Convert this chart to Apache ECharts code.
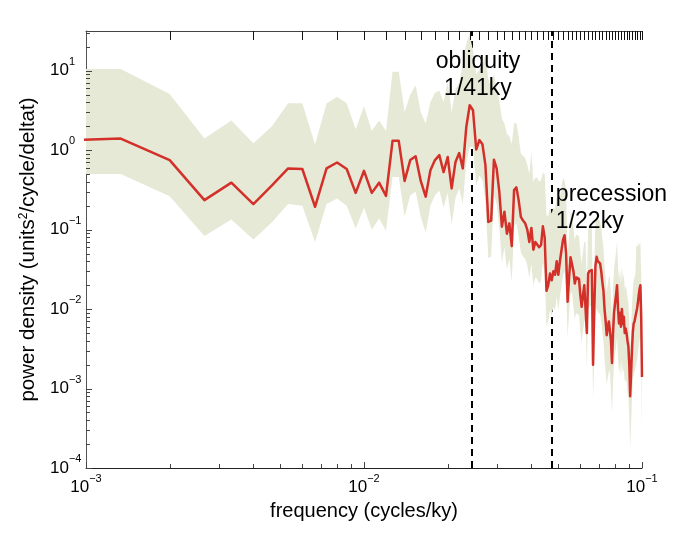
<!DOCTYPE html>
<html><head><meta charset="utf-8">
<script src="https://cdn.jsdelivr.net/npm/echarts@6/dist/echarts.min.js"></script>
<style>html,body{margin:0;padding:0;background:#fff}#c{width:697px;height:536px}</style>
</head><body><div id="c"></div>
<script>
// power spectral density (red line), k = 1..150, frequency = k * df
const psd = [
 1.3, 1.4, 0.75, 0.235, 0.39, 0.21, 0.36, 0.59, 0.58, 0.194,
 0.59, 0.70, 0.58, 0.29, 0.55, 0.29, 0.39, 0.266, 1.31, 1.31,
 0.41, 0.75, 0.84, 0.41, 0.26, 0.56, 0.75, 0.865, 0.53, 0.82,
 0.33, 0.71, 0.92, 0.59, 1.96, 3.68, 3.18, 1.02, 1.34, 1.19,
 0.65, 0.125, 0.13, 0.76, 0.59, 0.30, 0.109, 0.168, 0.089, 0.12,
 0.062, 0.314, 0.34, 0.235, 0.145, 0.13, 0.12, 0.10, 0.07, 0.105,
 0.056, 0.07, 0.067, 0.06, 0.064, 0.11, 0.08, 0.017, 0.02, 0.028,
 0.023, 0.03, 0.027, 0.04, 0.027, 0.04, 0.055, 0.075, 0.085, 0.05,
 0.0124, 0.025, 0.045, 0.045, 0.03, 0.021, 0.025, 0.024, 0.024, 0.015,
 0.0107, 0.015, 0.02, 0.02, 0.005, 0.028, 0.03, 0.031, 0.031, 0.002,
 0.01, 0.035, 0.0455, 0.04, 0.038, 0.0376, 0.03, 0.022, 0.017, 0.01,
 0.007, 0.0047, 0.006, 0.007, 0.0073, 0.004, 0.0021, 0.005, 0.009, 0.0118,
 0.015, 0.02, 0.01, 0.0066, 0.009, 0.006, 0.01, 0.0065, 0.008, 0.005,
 0.0057, 0.005, 0.004, 0.0034, 0.002, 0.0008, 0.0015, 0.003, 0.005, 0.0066,
 0.007, 0.008, 0.009, 0.0102, 0.012, 0.015, 0.018, 0.02, 0.008, 0.0014
];
// lower confidence bound
const lo = [
 0.5, 0.5, 0.264, 0.083, 0.134, 0.075, 0.124, 0.21, 0.20, 0.070,
 0.21, 0.247, 0.20, 0.103, 0.19, 0.10, 0.138, 0.097, 0.46, 0.46,
 0.145, 0.27, 0.30, 0.145, 0.092, 0.2, 0.27, 0.31, 0.19, 0.29,
 0.117, 0.25, 0.33, 0.21, 0.70, 1.1, 1.1, 0.36, 0.48, 0.42,
 0.23, 0.044, 0.046, 0.27, 0.21, 0.107, 0.039, 0.06, 0.032, 0.043,
 0.022, 0.11, 0.12, 0.083, 0.051, 0.046, 0.043, 0.036, 0.025, 0.037,
 0.020, 0.025, 0.024, 0.021, 0.023, 0.039, 0.028, 0.006, 0.0071, 0.0099,
 0.0082, 0.0107, 0.0096, 0.0142, 0.0096, 0.0142, 0.0195, 0.0266, 0.030, 0.0178,
 0.0044, 0.0089, 0.016, 0.016, 0.0107, 0.0075, 0.0089, 0.0085, 0.0085, 0.0053,
 0.0038, 0.0053, 0.0071, 0.0071, 0.0018, 0.0099, 0.0107, 0.011, 0.011, 0.0007,
 0.0023, 0.008, 0.0104, 0.0092, 0.0088, 0.0086, 0.007, 0.0051, 0.0039, 0.0023,
 0.0016, 0.0011, 0.0014, 0.0016, 0.0017, 0.0009, 0.0005, 0.0012, 0.0021, 0.0027,
 0.0034, 0.0046, 0.0023, 0.0015, 0.0021, 0.0014, 0.0023, 0.0015, 0.0018, 0.0012,
 0.0013, 0.0012, 0.0009, 0.0008, 0.00045, 0.00018, 0.00034, 0.0007, 0.0012, 0.0015,
 0.0016, 0.0018, 0.0021, 0.0023, 0.0028, 0.0034, 0.0042, 0.0046, 0.0018, 0.0003
];
// upper confidence bound
const hi = [
 10.5, 10.5, 5.1, 1.4, 2.37, 1.22, 2.0, 3.9, 3.9, 1.18,
 3.87, 4.71, 3.9, 1.84, 3.57, 1.74, 2.37, 1.74, 9.7, 9.7,
 3.03, 5.0, 6.57, 3.0, 2.17, 4.0, 5.27, 5.6, 4.0, 7.3,
 3.0, 5.9, 7.0, 12, 22, 29, 18, 9, 10.2, 12,
 15.9, 8, 6, 9.2, 6, 4.2, 2.5, 2.17, 1.6, 1.5,
 1.2, 2.17, 2.2, 1.5, 0.9, 0.85, 0.8, 0.65, 0.5, 0.95,
 0.4, 0.45, 0.45, 0.4, 0.42, 0.52, 0.5, 0.15, 0.15, 0.19,
 0.16, 0.19, 0.18, 0.26, 0.18, 0.26, 0.35, 0.45, 0.41, 0.32,
 0.043, 0.088, 0.16, 0.16, 0.105, 0.074, 0.088, 0.084, 0.084, 0.053,
 0.037, 0.053, 0.07, 0.07, 0.018, 0.098, 0.105, 0.11, 0.11, 0.007,
 0.035, 0.12, 0.16, 0.14, 0.13, 0.13, 0.105, 0.077, 0.06, 0.035,
 0.025, 0.016, 0.021, 0.025, 0.026, 0.014, 0.0074, 0.0175, 0.032, 0.041,
 0.053, 0.07, 0.035, 0.023, 0.032, 0.021, 0.035, 0.023, 0.028, 0.0175,
 0.02, 0.0175, 0.014, 0.012, 0.007, 0.0028, 0.0053, 0.0105, 0.0175, 0.023,
 0.025, 0.028, 0.06, 0.065, 0.06, 0.07, 0.063, 0.07, 0.028, 0.005
];
const df = 1 / 1500;                       // frequency resolution (cycles/ky)
const freq = psd.map((_, i) => (i + 1) * df);

const xMin = 1e-3, xMax = 1e-1;
const yMin = 1e-4, yMax = Math.pow(10, 1.5);
const xTickValues = [1e-3, 1e-2, 1e-1];
const xTickExponents = ['\u22123', '\u22122', '\u22121'];
const yTickValues = [1e-4, 1e-3, 1e-2, 1e-1, 1e0, 1e1];
const yTickExponents = ['\u22124', '\u22123', '\u22122', '\u22121', '0', '1'];
const minorMantissas = [2, 3, 4, 5, 6, 7, 8, 9];
const xDecades = [1e-3, 1e-2];
const yDecades = [1e-4, 1e-3, 1e-2, 1e-1, 1e0, 1e1];
const topTickStep = 0.002, topTickCount = 50;
const vlines = [1 / 41, 0.0475];
const annotations = [
  { text: 'obliquity\n1/41ky', f: 0.0257, v: 8.8, align: 'center' },
  { text: 'precession\n1/22ky', f: 0.049, v: 0.184, align: 'left' }
];

const FONT = '"Liberation Sans", Arial, Helvetica, sans-serif';
const RED = '#d3302a';
const BAND = '#e6e9d6';

// tick marks: [x, y, kind]
const tickData = [];
xTickValues.forEach(v => tickData.push([v, yMin, 0]));
xDecades.forEach(d => minorMantissas.forEach(m => tickData.push([m * d, yMin, 1])));
yTickValues.forEach(v => tickData.push([xMin, v, 2]));
yDecades.forEach(d => minorMantissas.forEach(m => { if (m * d < yMax) tickData.push([xMin, m * d, 3]); }));
for (let m = 1; m <= topTickCount; m++) tickData.push([m * topTickStep, yMax, 4]);

function findIdx(arr, v) {
  return arr.findIndex(t => Math.abs(Math.log10(t) - Math.log10(v)) < 1e-6);
}
const labelRich = {
  b: { fontSize: 17, fontFamily: FONT, color: '#000', lineHeight: 29 },
  e: { fontSize: 11, fontFamily: FONT, color: '#000', lineHeight: 11, verticalAlign: 'top' }
};

const chart = echarts.init(document.getElementById('c'), null, { renderer: 'canvas' });
chart.setOption({
  animation: false,
  backgroundColor: '#fff',
  grid: { left: 86, right: 55, top: 31, bottom: 68, containLabel: false },
  xAxis: [{
    type: 'log', logBase: 10, min: xMin, max: xMax, position: 'bottom',
    axisLine: { show: true, onZero: false, lineStyle: { color: '#222', width: 1 } },
    axisTick: { show: false }, splitLine: { show: false }, minorTick: { show: false },
    axisLabel: {
      margin: 5, showMinLabel: true, showMaxLabel: true,
      formatter: v => { const i = findIdx(xTickValues, v); return i < 0 ? '' : '{b|10}{e|' + xTickExponents[i] + '}'; },
      rich: labelRich
    },
    name: 'frequency (cycles/ky)', nameLocation: 'middle', nameGap: 33,
    nameTextStyle: { fontSize: 20, fontFamily: FONT, color: '#000' }
  }, {
    type: 'log', logBase: 10, min: xMin, max: xMax, position: 'top',
    axisLine: { show: true, onZero: false, lineStyle: { color: '#444', width: 1 } },
    axisTick: { show: false }, axisLabel: { show: false }, splitLine: { show: false }
  }],
  yAxis: {
    type: 'log', logBase: 10, min: yMin, max: yMax,
    axisLine: { show: true, onZero: false, lineStyle: { color: '#555', width: 1 } },
    axisTick: { show: false }, splitLine: { show: false }, minorTick: { show: false },
    axisLabel: {
      margin: 36, align: 'left', showMinLabel: true, showMaxLabel: true,
      formatter: v => { const i = findIdx(yTickValues, v); return i < 0 ? '' : '{b|10}{e|' + yTickExponents[i] + '}'; },
      rich: labelRich
    },
    name: 'power density (units{s|2}/cycle/deltat)', nameLocation: 'middle', nameGap: 38,
    nameTextStyle: { fontSize: 20.5, fontFamily: FONT, color: '#000',
      rich: { s: { fontSize: 12, fontFamily: FONT, color: '#000', verticalAlign: 'top', lineHeight: 12 } } }
  },
  series: [
    { // vertical dashed lines (under the band)
      type: 'custom', z: 1, silent: true, xAxisIndex: 0,
      data: vlines.map(v => [v, yMin]),
      encode: { x: 0, y: 1 },
      renderItem: (params, api) => {
        const v = api.value(0);
        const p1 = api.coord([v, yMin]), p2 = api.coord([v, yMax]);
        const x = Math.round(p1[0]);
        return { type: 'line', shape: { x1: x, y1: p1[1], x2: x, y2: p2[1] },
          style: { stroke: '#000', lineWidth: 2, lineDash: [7, 5] } };
      }
    },
    { // confidence band
      type: 'custom', z: 2, silent: true, xAxisIndex: 0,
      data: [[freq[10], psd[10]]],
      encode: { x: 0, y: 1 },
      renderItem: (params, api) => {
        const pts = [];
        for (let i = 0; i < freq.length; i++) pts.push(api.coord([freq[i], hi[i]]));
        for (let i = freq.length - 1; i >= 0; i--) pts.push(api.coord([freq[i], lo[i]]));
        const cs = params.coordSys;
        return { type: 'polygon', shape: { points: pts }, style: { fill: BAND },
          clipPath: { type: 'rect', shape: { x: cs.x, y: cs.y, width: cs.width, height: cs.height } } };
      }
    },
    { // spectrum
      type: 'line', z: 3, xAxisIndex: 0, silent: true,
      data: freq.map((f, i) => [f, psd[i]]),
      symbol: 'none', showSymbol: false, clip: true,
      lineStyle: { color: RED, width: 2.5, join: 'round' }
    },
    { // tick marks
      type: 'custom', z: 4, silent: true, xAxisIndex: 0,
      data: tickData, encode: { x: 0, y: 1 },
      renderItem: (params, api) => {
        const p = api.coord([api.value(0), api.value(1)]);
        const kind = api.value(2);
        let x1 = p[0], y1 = p[1], x2 = p[0], y2 = p[1];
        if (kind === 0 || kind === 1 || kind === 4) { x1 = x2 = Math.round(p[0]) + 0.5; }
        else { y1 = y2 = Math.round(p[1]) + 0.5; }
        if (kind === 0) y2 -= 6; else if (kind === 1) y2 -= 4;
        else if (kind === 2) x2 += 6; else if (kind === 3) x2 += 4;
        else y2 += 9;
        return { type: 'line', shape: { x1, y1, x2, y2 },
          style: { stroke: kind === 4 ? '#111' : '#444', lineWidth: 1 } };
      }
    },
    { // annotations (text anchored at data coordinates)
      type: 'custom', z: 5, silent: true, xAxisIndex: 0,
      data: annotations.map((a, i) => [a.f, a.v, i]), encode: { x: 0, y: 1 },
      renderItem: (params, api) => {
        const a = annotations[api.value(2)];
        const p = api.coord([api.value(0), api.value(1)]);
        return { type: 'text', x: p[0], y: p[1],
          style: { text: a.text, fill: '#000', fontSize: 23, fontFamily: FONT, lineHeight: 27,
            align: a.align, verticalAlign: 'middle', opacity: 1 } };
      }
    }
  ]
});
</script>
</body></html>
